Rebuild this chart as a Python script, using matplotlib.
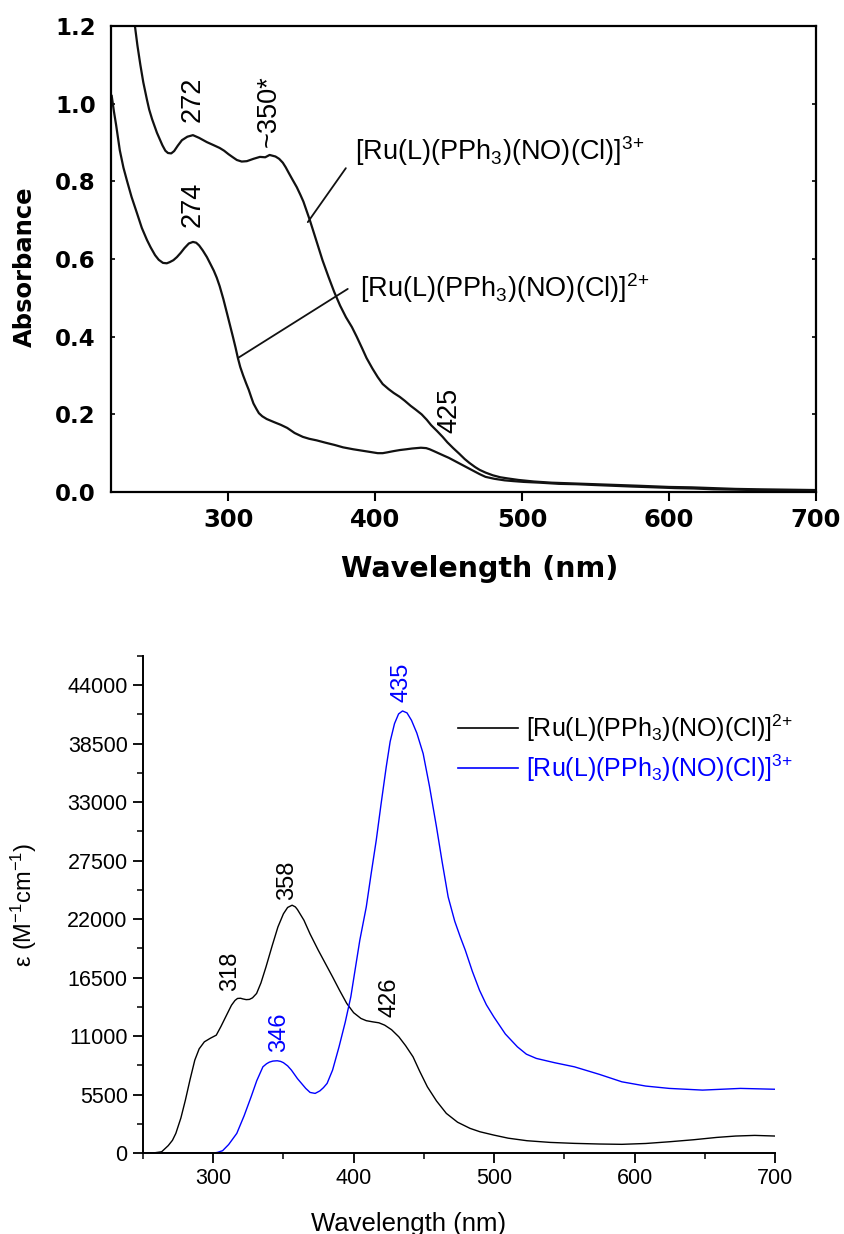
import matplotlib
matplotlib.use("Agg")
import matplotlib.pyplot as plt
from matplotlib.ticker import MultipleLocator, FormatStrFormatter

plt.rcParams['font.family'] = ['Liberation Sans', 'DejaVu Sans']
plt.rcParams['mathtext.fontset'] = 'custom'
plt.rcParams['mathtext.rm'] = 'Liberation Sans'
plt.rcParams['mathtext.it'] = 'Liberation Sans:italic'
plt.rcParams['mathtext.bf'] = 'Liberation Sans:bold'

# --- top panel: absorbance spectra ---
top_wl_3p = [233, 234.8, 236.3, 238, 240, 242, 244.5, 246, 248, 251.3, 255, 257, 258.8, 261,
             263, 265.5, 268.3, 272, 275.8, 280, 285.3, 290, 294, 297, 300, 303, 305.7,
             309, 312.5, 317, 321.4, 325, 328, 330, 332, 334.5, 337, 339, 341, 343.5, 346.5,
             349, 351, 355.4, 360, 364, 368, 372, 376, 380, 384, 387.3, 391, 394, 398,
             401.6, 405, 409, 412.5, 416.6, 420, 424, 427.5, 431.5, 435, 438, 442, 445.8,
             449, 453, 457, 460.8, 464, 468, 471, 475, 480, 485, 490, 497.5, 508, 520, 535,
             550, 565, 580, 600, 615, 630, 645, 660, 680, 700]
top_abs_3p = [1.30, 1.245, 1.20, 1.15, 1.10, 1.055, 1.01, 0.985, 0.96, 0.925, 0.893, 0.879,
              0.873, 0.872, 0.878, 0.892, 0.906, 0.915, 0.919, 0.912, 0.901, 0.893, 0.886,
              0.879, 0.870, 0.862, 0.855, 0.851, 0.852, 0.858, 0.863, 0.862, 0.868, 0.866,
              0.864, 0.858, 0.848, 0.836, 0.822, 0.805, 0.785, 0.765, 0.748, 0.700, 0.645,
              0.597, 0.555, 0.515, 0.480, 0.450, 0.425, 0.400, 0.370, 0.345, 0.318, 0.296,
              0.278, 0.265, 0.255, 0.245, 0.235, 0.222, 0.212, 0.200, 0.186, 0.172, 0.157,
              0.142, 0.128, 0.113, 0.099, 0.085, 0.075, 0.064, 0.057, 0.050, 0.043, 0.038,
              0.035, 0.031, 0.027, 0.024, 0.022, 0.020, 0.018, 0.016, 0.013, 0.012, 0.010,
              0.008, 0.007, 0.006, 0.005]

top_wl_2p = [220.5, 222, 223.5, 226, 228.5, 231, 234, 237.7, 241, 244.5, 247, 250, 252.5,
             255.4, 258, 260, 262.5, 264.9, 267.5, 270, 273, 275.8, 278, 280, 282.5, 285.3,
             288, 290, 292, 294, 296.5, 299, 301, 303, 304.8, 306.4, 308, 310, 312, 313.8,
             315.5, 317, 319, 320.7, 323, 326, 331, 335.6, 340, 345, 350.6, 355, 360, 366,
             372.4, 378, 385, 390, 395, 401.6, 405, 408, 412, 416.6, 421, 425, 428, 431,
             434.6, 437, 440, 443.5, 447, 450, 453, 456.5, 460, 463.5, 467, 471, 475, 481,
             488, 494, 501, 512, 525, 537, 549, 562, 575, 590, 604, 617, 630, 645, 659,
             680, 700]
top_abs_2p = [1.02, 0.98, 0.945, 0.88, 0.835, 0.80, 0.76, 0.718, 0.68, 0.649, 0.63, 0.61,
              0.598, 0.59, 0.589, 0.592, 0.597, 0.605, 0.616, 0.628, 0.640, 0.644, 0.642,
              0.635, 0.622, 0.605, 0.585, 0.57, 0.552, 0.53, 0.497, 0.46, 0.43, 0.40, 0.372,
              0.345, 0.322, 0.30, 0.28, 0.263, 0.244, 0.228, 0.214, 0.203, 0.195, 0.188,
              0.180, 0.173, 0.165, 0.152, 0.142, 0.137, 0.133, 0.127, 0.121, 0.115, 0.110,
              0.107, 0.104, 0.100, 0.100, 0.102, 0.105, 0.108, 0.110, 0.112, 0.113, 0.114,
              0.113, 0.110, 0.105, 0.099, 0.093, 0.088, 0.082, 0.075, 0.068, 0.061, 0.054,
              0.046, 0.039, 0.034, 0.030, 0.028, 0.026, 0.024, 0.021, 0.020, 0.018, 0.016,
              0.014, 0.012, 0.010, 0.009, 0.007, 0.006, 0.005, 0.004, 0.004]

# --- bottom panel: calculated spectra ---
bot_wl_2p = [250, 258, 263.3, 268, 271, 273.4, 277, 280.2, 283.5, 286.9, 290, 293.7, 298,
             302.2, 305.5, 308.9, 313, 315.5, 317.3, 319.5, 321, 323.5, 325.8, 328, 330.9,
             334, 337.6, 342, 346.1, 350, 353, 356.2, 358.5, 360, 364.6, 369, 374.8, 380,
             385, 390, 395.1, 400, 405.2, 409, 413.6, 418, 422.1, 427, 432.2, 437, 442.3,
             447, 452.5, 459, 466, 474, 482.9, 490, 499.8, 510, 523.4, 540, 557.2, 575,
             591, 608, 624.7, 642, 658.5, 672, 685.6, 700]
bot_eps_2p = [0, 20, 120, 700, 1200, 1850, 3300, 4980, 6900, 8740, 9800, 10460, 10800,
              11090, 11900, 12810, 13900, 14350, 14540, 14560, 14500, 14430, 14450, 14600,
              15010, 16000, 17510, 19500, 21270, 22500, 23100, 23310, 23150, 22900, 21900,
              20600, 19080, 17800, 16570, 15300, 14070, 13200, 12660, 12450, 12340, 12250,
              12030, 11600, 10930, 10100, 9050, 7700, 6230, 4900, 3730, 2900, 2320, 2000,
              1690, 1400, 1160, 1000, 910, 850, 820, 900, 1060, 1250, 1470, 1600, 1660, 1600]

bot_wl_3p = [250, 300, 303, 306.7, 311, 316.8, 322, 327, 331, 335.4, 338, 340, 342.5, 345.6,
             348, 350, 353, 355.7, 360, 365.9, 369, 372.6, 376, 378.5, 381.1, 385, 389.6,
             394, 398, 401, 404.4, 409, 412.5, 416.1, 419.5, 423.2, 426, 429.1, 432, 434.8,
             438, 441.2, 445, 449.5, 454, 459, 463, 467.3, 472, 476, 479.5, 484.5, 489.6,
             494.5, 499.8, 508, 516.6, 523, 530.1, 543, 557.2, 575, 591, 608, 624.7, 648.4,
             675.4, 700]
bot_eps_3p = [0, 0, 60, 220, 800, 1850, 3500, 5290, 6800, 8110, 8400, 8550, 8650, 8680,
              8620, 8500, 8200, 7800, 7000, 6080, 5700, 5610, 5850, 6150, 6550, 7800, 9990,
              12300, 14700, 17200, 20020, 23150, 26300, 29420, 32800, 36310, 38700, 40390,
              41300, 41580, 41400, 40700, 39500, 37570, 34500, 30670, 27400, 24090, 21800,
              20300, 19080, 17100, 15320, 13950, 12810, 11200, 9990, 9300, 8900, 8500, 8110,
              7400, 6700, 6300, 6080, 5920, 6080, 6000]

label_2p = r'[Ru(L)(PPh$_3$)(NO)(Cl)]$^{2{+}}$'
label_3p = r'[Ru(L)(PPh$_3$)(NO)(Cl)]$^{3{+}}$'

fig = plt.figure(figsize=(8.44, 12.34), dpi=100)

# ---------------- top panel ----------------
ax1 = fig.add_axes([0.1315, 0.6013, 0.8353, 0.3776])
ax1.plot(top_wl_3p, top_abs_3p, color='#111111', lw=1.6)
ax1.plot(top_wl_2p, top_abs_2p, color='#111111', lw=1.6)
ax1.set_xlim(220, 700)
ax1.set_ylim(0, 1.2)
ax1.xaxis.set_major_locator(MultipleLocator(100))
ax1.yaxis.set_major_locator(MultipleLocator(0.2))
ax1.yaxis.set_major_formatter(FormatStrFormatter('%.1f'))
for sp in ax1.spines.values():
    sp.set_linewidth(1.6)
ax1.tick_params(axis='x', direction='out', length=6.5, width=1.5, pad=5)
ax1.tick_params(axis='y', direction='in', length=3, width=1.2, pad=11, right=True)
for lab in ax1.get_xticklabels():
    lab.set_fontfamily('DejaVu Sans')
    lab.set_fontweight('bold')
    lab.set_fontsize(17.5)
for lab in ax1.get_yticklabels():
    lab.set_fontfamily('DejaVu Sans')
    lab.set_fontweight('bold')
    lab.set_fontsize(16.5)
ax1.set_xlabel('Wavelength (nm)', fontfamily='DejaVu Sans', fontweight='bold', fontsize=20.5)
ax1.xaxis.set_label_coords(0.523, -0.135)
ax1.set_ylabel('Absorbance', fontfamily='DejaVu Sans', fontweight='bold', fontsize=17.5)
ax1.yaxis.set_label_coords(-0.105, 0.483)

# leader lines and labels
ax1.annotate('', xy=(354, 0.695), xytext=(379.9, 0.834),
             arrowprops=dict(arrowstyle='-', lw=1.3, color='#111111', shrinkA=0, shrinkB=0))
ax1.annotate('', xy=(306.4, 0.345), xytext=(381.2, 0.523),
             arrowprops=dict(arrowstyle='-', lw=1.3, color='#111111', shrinkA=0, shrinkB=0))
ax1.text(386, 0.855, label_3p, fontsize=19.5, ha='left', va='baseline')
ax1.text(389.4, 0.502, label_2p, fontsize=19.5, ha='left', va='baseline')
ax1.text(275.4, 1.012, '272', fontsize=19.5, rotation=90, ha='center', va='center')
ax1.text(327.5, 0.981, '~350*', fontsize=19.5, rotation=90, ha='center', va='center')
ax1.text(275.4, 0.742, '274', fontsize=19.5, rotation=90, ha='center', va='center')
ax1.text(450.6, 0.211, '425', fontsize=19.5, rotation=90, ha='center', va='center')

# ---------------- bottom panel ----------------
ax2 = fig.add_axes([0.1694, 0.0656, 0.7488, 0.4028])
ax2.plot(bot_wl_2p, bot_eps_2p, color='black', lw=1.0, label=label_2p)
ax2.plot(bot_wl_3p, bot_eps_3p, color='#0000ff', lw=1.0, label=label_3p)
ax2.set_xlim(250, 700)
ax2.set_ylim(0, 46750)
ax2.xaxis.set_major_locator(MultipleLocator(100))
ax2.xaxis.set_minor_locator(MultipleLocator(50))
ax2.yaxis.set_major_locator(MultipleLocator(5500))
ax2.yaxis.set_minor_locator(MultipleLocator(2750))
ax2.spines['top'].set_visible(False)
ax2.spines['right'].set_visible(False)
for sp in ['left', 'bottom']:
    ax2.spines[sp].set_linewidth(1.4)
ax2.tick_params(which='major', direction='out', length=7, width=1.3, labelsize=15.5, pad=4)
ax2.tick_params(which='minor', direction='out', length=4.5, width=1.1)
ax2.set_xlabel('Wavelength (nm)', fontsize=18.5)
ax2.xaxis.set_label_coords(0.421, -0.118)
ax2.set_ylabel(r'ε (M$^{-1}$cm$^{-1}$)', fontsize=17)
ax2.yaxis.set_label_coords(-0.164, 0.5)

ax2.text(434.3, 44270, '435', color='#0000ff', fontsize=17, rotation=90, ha='center', va='center')
ax2.text(352.5, 25660, '358', color='black', fontsize=17, rotation=90, ha='center', va='center')
ax2.text(312.3, 17110, '318', color='black', fontsize=17, rotation=90, ha='center', va='center')
ax2.text(425.4, 14660, '426', color='black', fontsize=17, rotation=90, ha='center', va='center')
ax2.text(347.1, 11370, '346', color='#0000ff', fontsize=17, rotation=90, ha='center', va='center')

leg = ax2.legend(loc='center left', bbox_to_anchor=(0.5423, 0.3938),
                 bbox_transform=fig.transFigure, frameon=False, fontsize=18,
                 handlelength=2.4, handletextpad=0.35, labelspacing=0.35,
                 borderaxespad=0, borderpad=0, labelcolor='linecolor')
for line in leg.get_lines():
    line.set_linewidth(1.2)

plt.savefig('out.png', dpi=100)
